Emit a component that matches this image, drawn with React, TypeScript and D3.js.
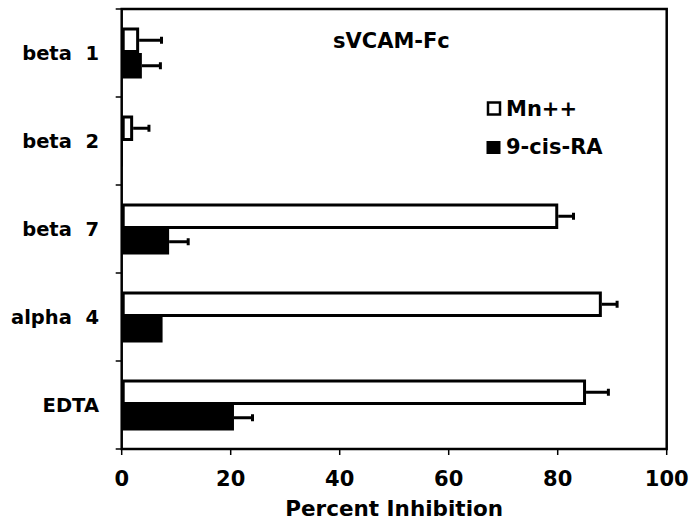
import React from "react";
import * as d3 from "d3";

const categories = ["beta 1", "beta 2", "beta 7", "alpha 4", "EDTA"];
const mnValues = [3.2, 2.1, 80.1, 88.1, 85.2];
const mnErrors = [4.1, 2.9, 2.8, 2.8, 4.1];
const raValues = [3.7, 0.2, 8.7, 7.5, 20.6];
const raErrors = [3.4, 0, 3.5, 0, 3.4];
const xTicks = [0, 20, 40, 60, 80, 100];
const seriesNames = ["Mn++", "9-cis-RA"];
const title = "sVCAM-Fc";
const xTitle = "Percent Inhibition";

const W = 698, H = 526;
const L = 121.7, R = 666.7, T = 9, B = 449;
const FONT = "'DejaVu Sans', Verdana, sans-serif";

export default function App() {
  const x = d3.scaleLinear().domain([0, 100]).range([L, R]);
  const y = d3.scaleBand().domain(categories).range([T, B]);
  const barH = 25.5;
  const sw = 3;

  const bars: React.ReactNode[] = [];
  categories.forEach((c, i) => {
    const cy = (y(c) as number) + y.bandwidth() / 2;
    const mv = mnValues[i];
    const me = mnErrors[i];
    bars.push(
      <g key={"mn" + i}>
        {me > 0 && (
          <g>
            <line x1={x(mv)} x2={x(mv + me)} y1={cy - barH / 2} y2={cy - barH / 2} stroke="#000" strokeWidth={3} />
            <line x1={x(mv + me)} x2={x(mv + me)} y1={cy - barH / 2 - 3.5} y2={cy - barH / 2 + 3.5} stroke="#000" strokeWidth={3} />
          </g>
        )}
        <rect x={x(0) + sw / 2} y={cy - barH + sw / 2} width={Math.max(0, x(mv) - x(0) - sw)} height={barH - sw} fill="#fff" stroke="#000" strokeWidth={sw} />
      </g>
    );
    const rv = raValues[i];
    const re = raErrors[i];
    bars.push(
      <g key={"ra" + i}>
        {re > 0 && (
          <g>
            <line x1={x(rv)} x2={x(rv + re)} y1={cy + barH / 2} y2={cy + barH / 2} stroke="#000" strokeWidth={3} />
            <line x1={x(rv + re)} x2={x(rv + re)} y1={cy + barH / 2 - 3.5} y2={cy + barH / 2 + 3.5} stroke="#000" strokeWidth={3} />
          </g>
        )}
        <rect x={x(0)} y={cy} width={x(rv) - x(0)} height={barH} fill="#000" />
      </g>
    );
  });

  const boundaries = categories.map((c) => y(c) as number).concat([B]);

  return (
    <div style={{ position: "absolute", left: 0, top: 0 }}>
      <svg width={W} height={H} style={{ display: "block", background: "#fff" }} fontFamily={FONT}>
        <rect x={0} y={0} width={W} height={H} fill="#fff" />
        {bars}
        <rect x={L} y={T} width={R - L} height={B - T} fill="none" stroke="#000" strokeWidth={2.5} />
        {boundaries.map((b, i) => (
          <line key={"yt" + i} x1={L - 6} x2={L} y1={b} y2={b} stroke="#000" strokeWidth={1.5} />
        ))}
        {xTicks.map((t) => (
          <g key={"xt" + t}>
            <line x1={x(t)} x2={x(t)} y1={B} y2={B + 6} stroke="#000" strokeWidth={1.5} />
            <text x={x(t)} y={486} textAnchor="middle" fontSize={21} fontWeight="bold" fill="#000">{t}</text>
          </g>
        ))}
        {categories.map((c) => (
          <text key={"yl" + c} x={99} y={(y(c) as number) + y.bandwidth() / 2 + 7} textAnchor="end" fontSize={19.5} fontWeight="bold" fill="#000">
            {c.replace(" ", "\u00a0 ")}
          </text>
        ))}
        <text x={(L + R) / 2} y={516} textAnchor="middle" fontSize={21.5} fontWeight="bold" fill="#000">{xTitle}</text>
        <text x={333} y={48} fontSize={21} fontWeight="bold" fill="#000">{title}</text>
        <rect x={488} y={102.5} width={12} height={12} fill="#fff" stroke="#000" strokeWidth={2.5} />
        <text x={506} y={116} fontSize={21} fontWeight="bold" fill="#000">{seriesNames[0]}</text>
        <rect x={486.5} y={141} width={14} height={13} fill="#000" />
        <text x={506} y={154} fontSize={21} fontWeight="bold" fill="#000">{seriesNames[1]}</text>
      </svg>
    </div>
  );
}
